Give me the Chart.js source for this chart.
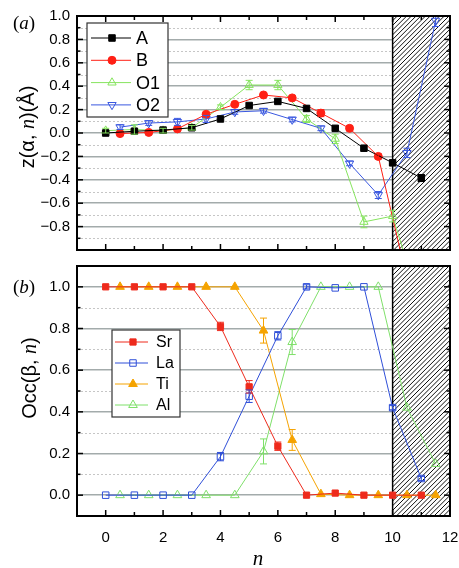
<!DOCTYPE html>
<html><head><meta charset="utf-8">
<script src="https://cdn.jsdelivr.net/npm/chart.js@4.4.0/dist/chart.umd.min.js"></script>
<style>
html,body{margin:0;padding:0;background:#fff;}
#wrap{position:relative;width:459px;height:568px;overflow:hidden;font-family:"Liberation Sans",Arial,sans-serif;color:#000;}
canvas{position:absolute;left:0;}
#c1{top:0;width:459px;height:266px;}
#c2{top:255px;width:459px;height:313px;}
.lbl{position:absolute;white-space:nowrap;line-height:1;}
.it{font-family:"Liberation Serif",serif;font-style:italic;}
.rot{transform:translate(-50%,-50%) rotate(-90deg);}
.ctr{transform:translate(-50%,-50%);}
</style></head><body>
<div id="wrap">
<canvas id="c1" width="459" height="266"></canvas>
<canvas id="c2" width="459" height="313"></canvas>
<div class="lbl" style="left:13px;top:13px;font-family:'Liberation Serif',serif;font-size:19px;">(<span class="it">a</span>)</div>
<div class="lbl" style="left:13px;top:277px;font-family:'Liberation Serif',serif;font-size:19px;">(<span class="it">b</span>)</div>
<div class="lbl rot" style="left:27px;top:127px;font-size:20px;">z(α, <span class="it">n</span>)(Å)</div>
<div class="lbl rot" style="left:29px;top:378px;font-size:20px;">Occ(β, <span class="it">n</span>)</div>
<div class="lbl ctr it" style="left:258px;top:558px;font-size:21px;">n</div>
</div>
<script>
// ---------- data ----------
const zA_n  = [0,1,2,3,4,5,6,7,8,9,10,11];
const zA    = [0.00,0.015,0.025,0.045,0.12,0.235,0.27,0.21,0.04,-0.13,-0.255,-0.385];
const zA_e  = [0,0,0,0,0,0,0,0,0,0,0.01,0.03];
const zB_n  = [0.5,1.5,2.5,3.5,4.5,5.5,6.5,7.5,8.5,9.5,10.5];
const zB    = [-0.005,0.005,0.035,0.16,0.245,0.325,0.30,0.17,0.04,-0.20,-1.25];
const zB_e  = [0,0,0,0.01,0,0,0.01,0.03,0.02,0.02,0];
const zO1_n = [0,1,2,3,4,5,6,7,8,9,10,11];
const zO1   = [0.02,0.03,0.02,0.045,0.22,0.41,0.41,0.12,-0.05,-0.76,-0.71,-1.5];
const zO1_e = [0.02,0.04,0.02,0.02,0.02,0.04,0.04,0.03,0.04,0.05,0.05,0];
const zO2_n = [0.5,1.5,2.5,3.5,4.5,5.5,6.5,7.5,8.5,9.5,10.5,11.5];
const zO2   = [0.05,0.085,0.095,0.12,0.18,0.19,0.115,0.04,-0.26,-0.53,-0.17,0.96];
const zO2_e = [0.02,0.02,0.03,0.03,0.02,0.02,0.02,0.02,0.02,0.03,0.04,0.05];

const occSr_n = [0,1,2,3,4,5,6,7,8,9,10,11];
const occSr   = [1,1,1,1,0.81,0.52,0.235,0,0.01,0,0,0];
const occSr_e = [0,0,0,0,0.02,0.03,0.02,0,0,0,0,0];
const occLa_n = [0,1,2,3,4,5,6,7,8,9,10,11];
const occLa   = [0,0,0,0,0.185,0.475,0.765,1.0,0.995,1.0,0.42,0.08];
const occLa_e = [0,0,0,0,0.02,0.03,0.02,0.01,0,0,0.01,0.01];
const occTi_n = [0.5,1.5,2.5,3.5,4.5,5.5,6.5,7.5,8.5,9.5,10.5,11.5];
const occTi   = [1,1,1,1,1,0.79,0.265,0.005,0,0,0,0];
const occTi_e = [0,0,0,0,0,0.06,0.05,0,0,0,0,0];
const occAl_n = [0.5,1.5,2.5,3.5,4.5,5.5,6.5,7.5,8.5,9.5,10.5,11.5];
const occAl   = [0,0,0,0,0,0.21,0.735,1.0,1.0,1.0,0.42,0.15];
const occAl_e = [0,0,0,0,0,0.06,0.06,0,0,0,0,0];

const zTickVals   = [1.0,0.8,0.6,0.4,0.2,0.0,-0.2,-0.4,-0.6,-0.8];
const zTickLabels = ['1.0','0.8','0.6','0.4','0.2','0.0','\u22120.2','\u22120.4','\u22120.6','\u22120.8'];
const zMinor      = [0.9,0.7,0.5,0.3,0.1,-0.1,-0.3,-0.5,-0.7,-0.9];
const occTickVals   = [1.0,0.8,0.6,0.4,0.2,0.0];
const occTickLabels = ['1.0','0.8','0.6','0.4','0.2','0.0'];
const occMinor      = [0.9,0.7,0.5,0.3,0.1];
const nTickVals   = [0,2,4,6,8,10,12];
const nTickLabels = ['0','2','4','6','8','10','12'];
const nMinor      = [-1,1,3,5,7,9,11];

// ---------- helpers ----------
function mk(label, xs, ys, errs, color, style, rot, filled, r){
  return {label, data: xs.map((x,i)=>({x, y: ys[i]})), errs,
    borderColor: color, backgroundColor: filled ? color : 'rgba(0,0,0,0)',
    pointBackgroundColor: filled ? color : 'rgba(0,0,0,0)', pointBorderColor: color,
    pointStyle: style, pointRotation: rot, pointRadius: r, pointHoverRadius: r,
    pointBorderWidth: 1, borderWidth: 1, tension: 0, fill: false, clip: 0, filled};
}
function marker(ctx, style, x, y, r, rot, filled, color){
  ctx.save(); ctx.translate(x,y); ctx.rotate(rot*Math.PI/180);
  ctx.beginPath();
  if (style==='rect'){ const s=Math.SQRT1_2*r; ctx.rect(-s,-s,2*s,2*s); }
  else if (style==='circle'){ ctx.arc(0,0,r,0,Math.PI*2); }
  else { for(let k=0;k<3;k++){ const a=k*2*Math.PI/3; const px=Math.sin(a)*r, py=-Math.cos(a)*r; k?ctx.lineTo(px,py):ctx.moveTo(px,py);} ctx.closePath(); }
  ctx.lineWidth=1; ctx.strokeStyle=color;
  if (filled){ ctx.fillStyle=color; ctx.fill(); }
  ctx.stroke(); ctx.restore();
}

const deco = {
  id: 'deco',
  beforeDatasetsDraw(chart, args, o){
    const {ctx, chartArea: a} = chart; const x = chart.scales.x, y = chart.scales.y;
    ctx.save();
    ctx.beginPath(); ctx.rect(a.left, a.top, a.width, a.height); ctx.clip();
    ctx.strokeStyle = '#c6c6c6'; ctx.lineWidth = 1; ctx.setLineDash([2,2]);
    o.minor.forEach(v => { const py = Math.round(y.getPixelForValue(v)) + 0.5;
      ctx.beginPath(); ctx.moveTo(a.left, py); ctx.lineTo(a.right, py); ctx.stroke(); });
    ctx.setLineDash([]);
    const h0 = x.getPixelForValue(o.hatch[0]), h1 = x.getPixelForValue(o.hatch[1]);
    ctx.fillStyle = '#fff'; ctx.fillRect(h0, a.top, h1 - h0, a.height);
    ctx.beginPath(); ctx.rect(h0, a.top, h1 - h0, a.height); ctx.clip();
    ctx.strokeStyle = '#111'; ctx.lineWidth = 1;
    ctx.beginPath();
    for (let s = h0 - a.height; s < h1 + 5; s += 4.7){ ctx.moveTo(s, a.bottom); ctx.lineTo(s + a.height, a.top); }
    ctx.stroke();
    ctx.restore();
    ctx.save(); ctx.strokeStyle = '#000'; ctx.lineWidth = 1.5;
    ctx.beginPath(); ctx.moveTo(h0, a.top); ctx.lineTo(h0, a.bottom); ctx.stroke(); ctx.restore();
  },
  afterDatasetsDraw(chart){
    const {ctx, chartArea: a} = chart; const x = chart.scales.x, y = chart.scales.y;
    ctx.save(); ctx.beginPath(); ctx.rect(a.left, a.top, a.width, a.height); ctx.clip();
    chart.data.datasets.forEach(d => {
      ctx.strokeStyle = d.borderColor; ctx.lineWidth = 1;
      d.data.forEach((p,i) => { const e = d.errs[i]; if (!e) return;
        const px = x.getPixelForValue(p.x), y1 = y.getPixelForValue(p.y + e), y2 = y.getPixelForValue(p.y - e);
        ctx.beginPath(); ctx.moveTo(px, y1); ctx.lineTo(px, y2);
        ctx.moveTo(px - 3.5, y1); ctx.lineTo(px + 3.5, y1);
        ctx.moveTo(px - 3.5, y2); ctx.lineTo(px + 3.5, y2); ctx.stroke(); });
    });
    ctx.restore();
  },
  afterDraw(chart, args, o){
    const {ctx, chartArea: a} = chart; const x = chart.scales.x, y = chart.scales.y;
    ctx.save();
    ctx.strokeStyle = '#000'; ctx.lineWidth = 1.5;
    const tk = (x1,y1,x2,y2) => { ctx.beginPath(); ctx.moveTo(x1,y1); ctx.lineTo(x2,y2); ctx.stroke(); };
    o.yMajor.forEach(v => { const py = y.getPixelForValue(v); tk(a.left,py,a.left+6,py); tk(a.right,py,a.right-6,py); });
    o.minor.forEach(v => { const py = y.getPixelForValue(v); tk(a.left,py,a.left+3.5,py); tk(a.right,py,a.right-3.5,py); });
    nTickVals.forEach(v => { const px = x.getPixelForValue(v);
      if (o.xTop) tk(px,a.top,px,a.top+6); if (o.xBottom) tk(px,a.bottom,px,a.bottom-6); });
    nMinor.forEach(v => { const px = x.getPixelForValue(v);
      if (o.xTop) tk(px,a.top,px,a.top+4); if (o.xBottom) tk(px,a.bottom,px,a.bottom-4); });
    ctx.lineWidth = 2; ctx.strokeRect(a.left, a.top, a.width, a.height);
    // legend
    const L = o.legend;
    ctx.fillStyle = '#fff'; ctx.fillRect(L.x0, L.y0, L.x1 - L.x0, L.y1 - L.y0);
    ctx.strokeStyle = '#333'; ctx.lineWidth = 1.2; ctx.strokeRect(L.x0, L.y0, L.x1 - L.x0, L.y1 - L.y0);
    chart.data.datasets.forEach((d,i) => {
      const yy = L.ey + i*L.dy;
      ctx.strokeStyle = d.borderColor; ctx.lineWidth = 1;
      tk(L.lx0, yy, L.lx1, yy);
      marker(ctx, d.pointStyle, L.mx, yy, d.pointRadius, d.pointRotation, d.filled, d.borderColor);
      ctx.fillStyle = '#000'; ctx.font = L.font; ctx.textBaseline = 'middle'; ctx.textAlign = 'left';
      ctx.fillText(d.label, L.tx, yy + 1);
    });
    ctx.restore();
  }
};

const tickFont = {family: "'Liberation Sans', Arial, sans-serif", size: 15};

new Chart(document.getElementById('c1'), {
  type: 'line',
  data: { datasets: [
    mk('A',  zA_n,  zA,  zA_e,  '#000000', 'rect', 0, true, 4.6),
    mk('B',  zB_n,  zB,  zB_e,  '#ff2015', 'circle', 0, true, 4),
    mk('O1', zO1_n, zO1, zO1_e, '#86e45e', 'triangle', 0, false, 4.8),
    mk('O2', zO2_n, zO2, zO2_e, '#3a58e0', 'triangle', 180, false, 4.8)
  ]},
  options: {
    responsive: false, animation: false, events: [],
    layout: { padding: { top: 15, right: 9, bottom: 1, left: 0 } },
    plugins: { legend: { display: false }, tooltip: { enabled: false },
      deco: { minor: zMinor, yMajor: zTickVals.concat([-1.0]), hatch: [10,12], xTop: true, xBottom: true,
        legend: { x0: 87, y0: 23, x1: 168, y1: 117, ey: 38, dy: 22.3, lx0: 91, lx1: 131, mx: 112, tx: 136,
          font: "18px 'Liberation Sans', Arial, sans-serif" } } },
    scales: {
      x: { type: 'linear', min: -1, max: 12, display: false },
      y: { type: 'linear', min: -1, max: 1,
        afterFit(s){ s.width = 77; },
        afterBuildTicks(s){ s.ticks = zTickVals.map(v => ({value: v})); },
        ticks: { callback: (v,i) => zTickLabels[i], padding: 7, color: '#000', font: tickFont, autoSkip: false },
        grid: { drawTicks: false, color: '#a3abab', lineWidth: 1.5 },
        border: { display: false } }
    }
  },
  plugins: [deco]
});

new Chart(document.getElementById('c2'), {
  type: 'line',
  data: { datasets: [
    mk('Sr', occSr_n, occSr, occSr_e, '#ee2a1c', 'rect', 0, true, 4.4),
    mk('La', occLa_n, occLa, occLa_e, '#2f4fd8', 'rect', 0, false, 4.6),
    mk('Ti', occTi_n, occTi, occTi_e, '#f5a300', 'triangle', 0, true, 5),
    mk('Al', occAl_n, occAl, occAl_e, '#7fe06a', 'triangle', 0, false, 5)
  ]},
  options: {
    responsive: false, animation: false, events: [],
    layout: { padding: { top: 11, right: 9, bottom: 0, left: 0 } },
    plugins: { legend: { display: false }, tooltip: { enabled: false },
      deco: { minor: occMinor, yMajor: occTickVals, hatch: [10,12], xTop: false, xBottom: true,
        legend: { x0: 112, y0: 75, x1: 180, y1: 162, ey: 87, dy: 21, lx0: 115, lx1: 148, mx: 133, tx: 156,
          font: "16px 'Liberation Sans', Arial, sans-serif" } } },
    scales: {
      x: { type: 'linear', min: -1, max: 12,
        afterFit(s){ s.height = 52; s.paddingLeft = 0; s.paddingRight = 0; },
        afterBuildTicks(s){ s.ticks = nTickVals.map(v => ({value: v})); },
        ticks: { callback: (v,i) => nTickLabels[i], padding: 13, color: '#000', font: tickFont, autoSkip: false, maxRotation: 0 },
        grid: { display: false, drawTicks: false },
        border: { display: false } },
      y: { type: 'linear', min: -0.1, max: 1.1,
        afterFit(s){ s.width = 77; s.paddingTop = 0; s.paddingBottom = 0; },
        afterBuildTicks(s){ s.ticks = occTickVals.map(v => ({value: v})); },
        ticks: { callback: (v,i) => occTickLabels[i], padding: 7, color: '#000', font: tickFont, autoSkip: false },
        grid: { drawTicks: false, color: '#a3abab', lineWidth: 1.5 },
        border: { display: false } }
    }
  },
  plugins: [deco]
});
</script>
</body></html>
